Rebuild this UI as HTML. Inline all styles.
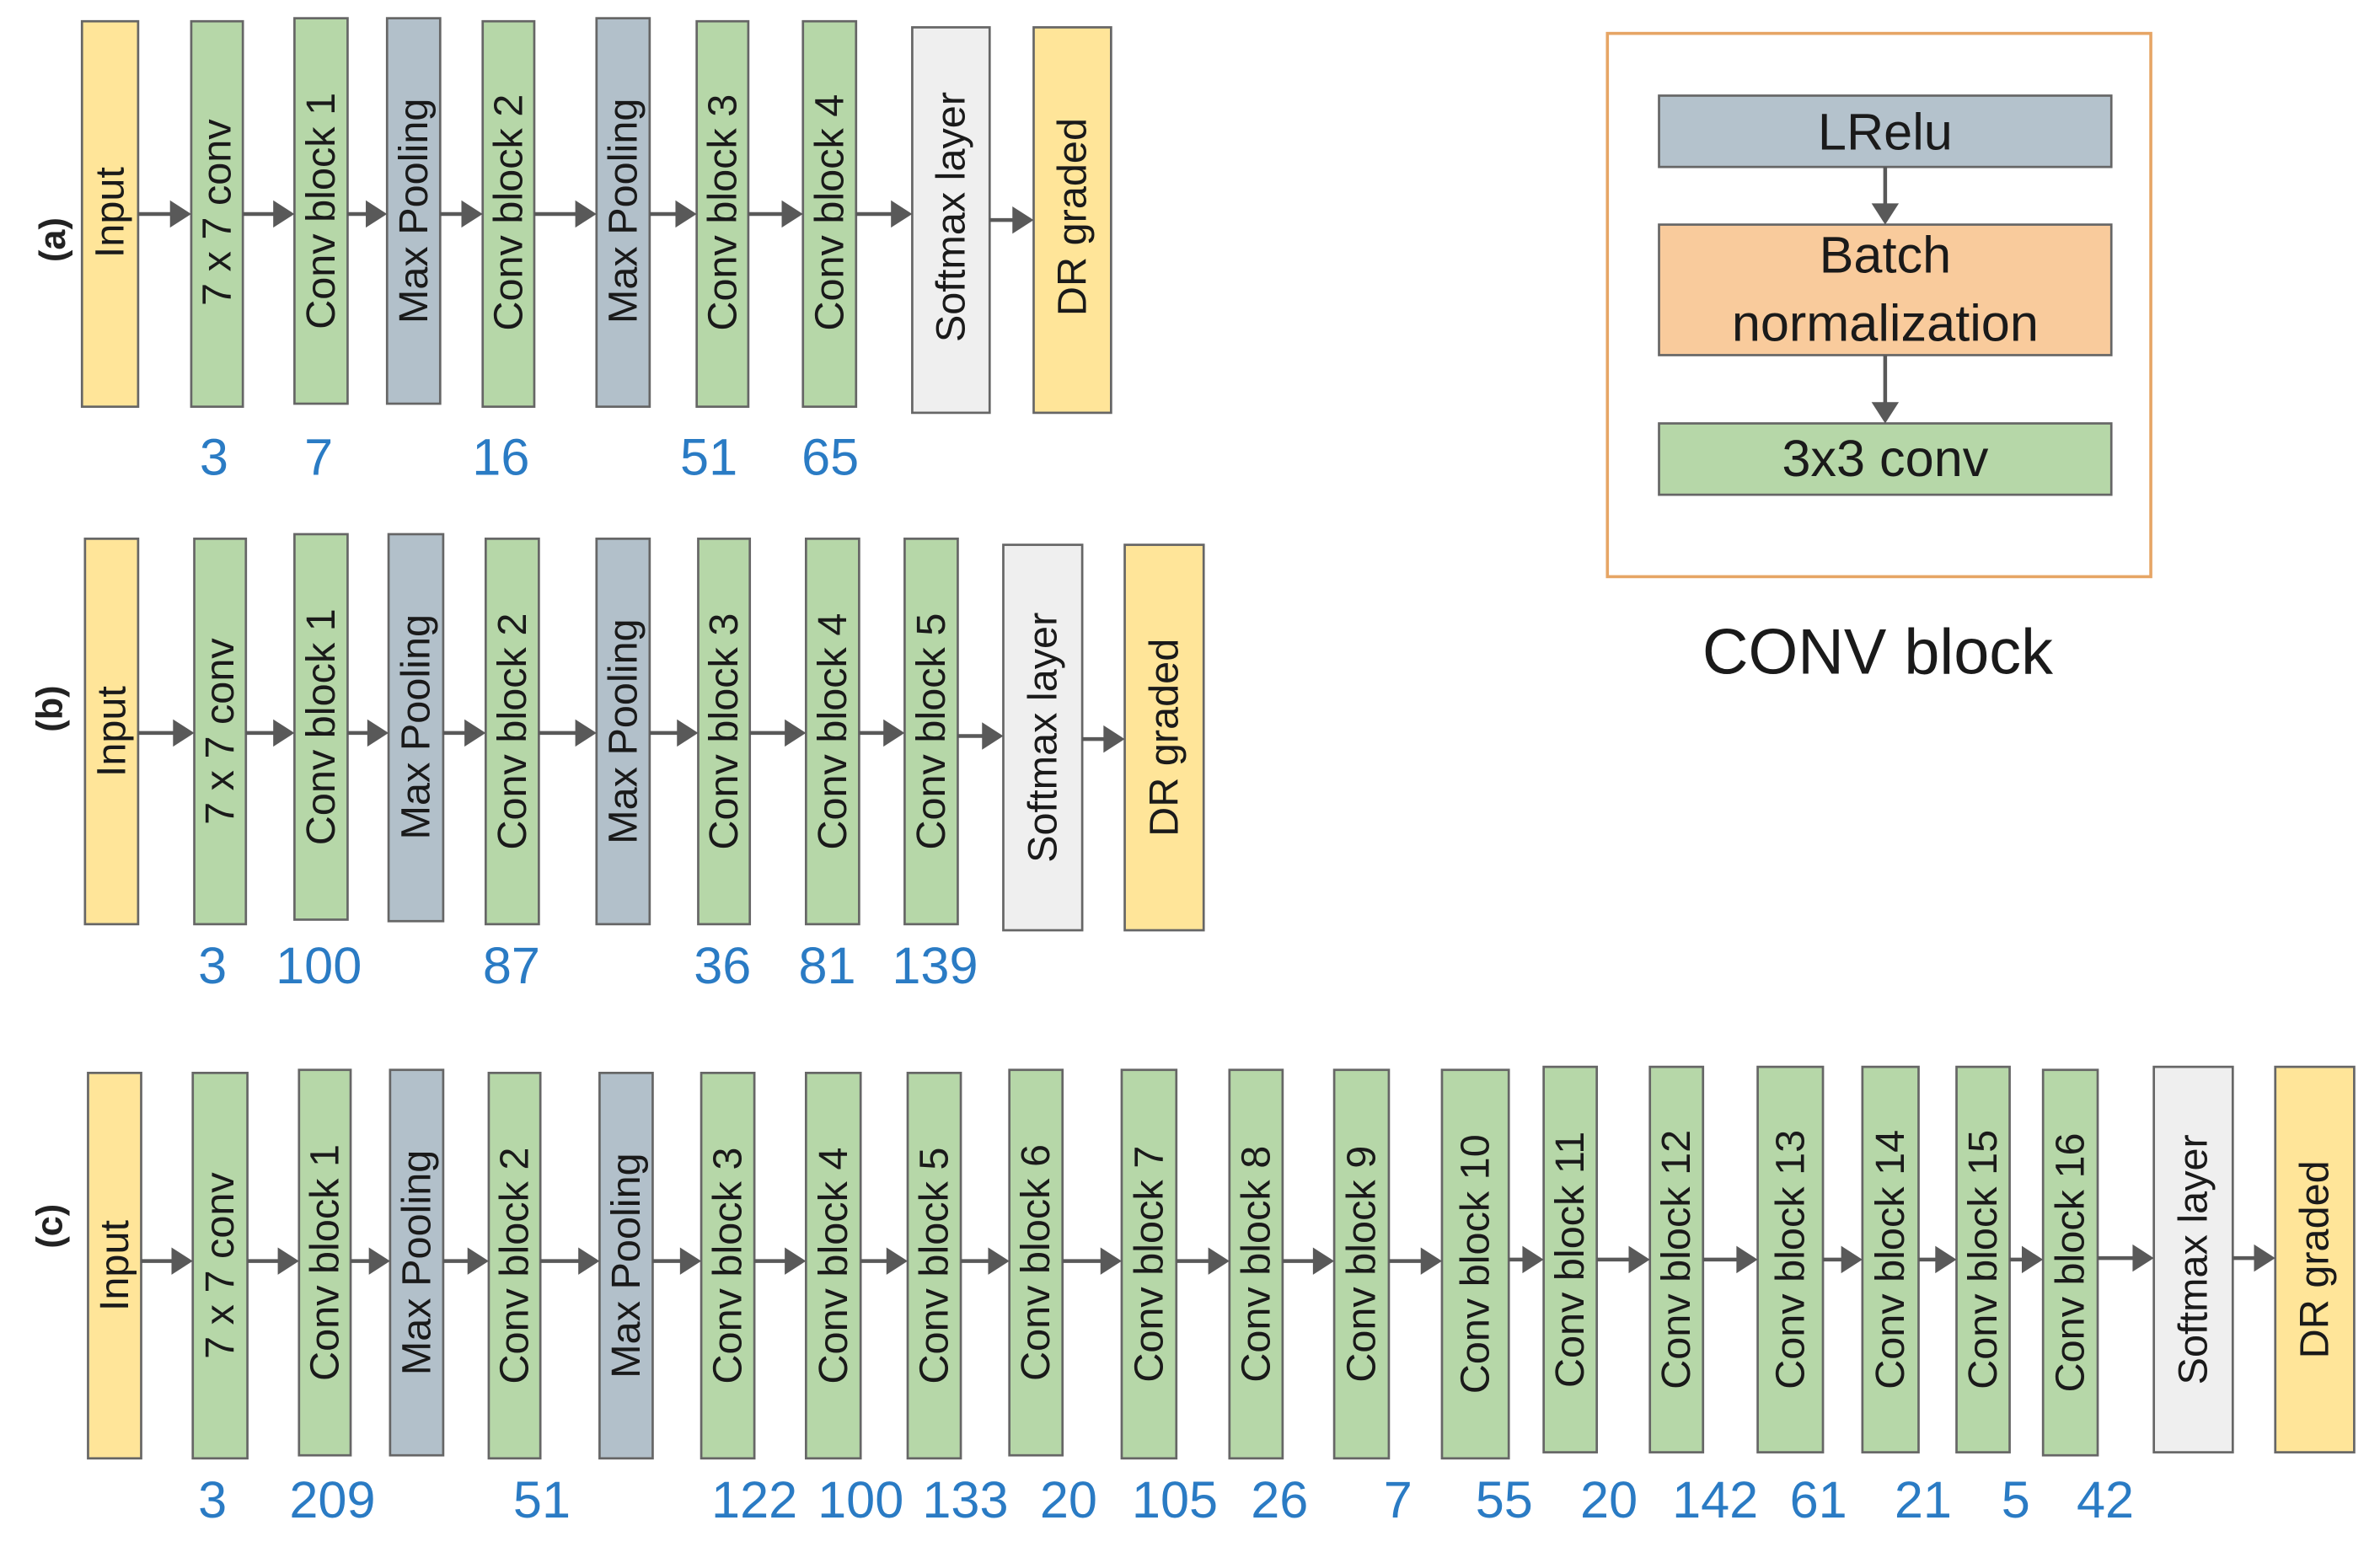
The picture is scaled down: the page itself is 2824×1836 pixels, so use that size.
<!DOCTYPE html>
<html><head><meta charset="utf-8"><style>
html,body{margin:0;padding:0;background:#fff;}
svg{display:block;}
.b{stroke:#666;stroke-width:1.5;}
.y{fill:#ffe599}.g{fill:#b6d7a8}.p{fill:#b2c0ca}.w{fill:#efefef}
.t{font-family:"Liberation Sans",sans-serif;font-size:27px;fill:#1a1a1a;text-anchor:middle;dominant-baseline:central;}
.n{font-family:"Liberation Sans",sans-serif;font-size:34px;fill:#2a7bc4;text-anchor:middle;}
.l{font-family:"Liberation Sans",sans-serif;font-size:24px;font-weight:bold;fill:#222;text-anchor:middle;dominant-baseline:central;}
.a{stroke:#595959;stroke-width:2.5;}
.h{fill:#595959;}
</style></head><body>
<svg width="2824" height="1836" viewBox="0 0 1568 1019.4" xmlns="http://www.w3.org/2000/svg">
<!-- Row a -->
<text class="l" transform="translate(35,158) rotate(-90)">(a)</text>
<rect class="b y" x="54" y="14" width="37" height="254"/><text class="t" transform="translate(72.5,140) rotate(-90)">Input</text>
<rect class="b g" x="126" y="14" width="34" height="254"/><text class="t" transform="translate(143,140) rotate(-90)">7 x 7 conv</text>
<rect class="b g" x="194" y="12" width="35" height="254"/><text class="t" transform="translate(211.5,139) rotate(-90)">Conv block 1</text>
<rect class="b p" x="255" y="12" width="35" height="254"/><text class="t" transform="translate(272.5,139) rotate(-90)">Max Pooling</text>
<rect class="b g" x="318" y="14" width="34" height="254"/><text class="t" transform="translate(335,140) rotate(-90)">Conv block 2</text>
<rect class="b p" x="393" y="12" width="35" height="256"/><text class="t" transform="translate(410.5,139) rotate(-90)">Max Pooling</text>
<rect class="b g" x="459" y="14" width="34" height="254"/><text class="t" transform="translate(476,140) rotate(-90)">Conv block 3</text>
<rect class="b g" x="529" y="14" width="35" height="254"/><text class="t" transform="translate(546.5,140) rotate(-90)">Conv block 4</text>
<rect class="b w" x="601" y="18" width="51" height="254"/><text class="t" transform="translate(626.5,143) rotate(-90)">Softmax layer</text>
<rect class="b y" x="681" y="18" width="51" height="254"/><text class="t" transform="translate(706.5,143) rotate(-90)">DR graded</text>
<g>
<line class="a" x1="91" y1="141" x2="114" y2="141"/><polygon class="h" points="112,132 126,141 112,150"/>
<line class="a" x1="160" y1="141" x2="182" y2="141"/><polygon class="h" points="180,132 194,141 180,150"/>
<line class="a" x1="229" y1="141" x2="243" y2="141"/><polygon class="h" points="241,132 255,141 241,150"/>
<line class="a" x1="290" y1="141" x2="306" y2="141"/><polygon class="h" points="304,132 318,141 304,150"/>
<line class="a" x1="352" y1="141" x2="381" y2="141"/><polygon class="h" points="379,132 393,141 379,150"/>
<line class="a" x1="428" y1="141" x2="447" y2="141"/><polygon class="h" points="445,132 459,141 445,150"/>
<line class="a" x1="493" y1="141" x2="517" y2="141"/><polygon class="h" points="515,132 529,141 515,150"/>
<line class="a" x1="564" y1="141" x2="589" y2="141"/><polygon class="h" points="587,132 601,141 587,150"/>
<line class="a" x1="652" y1="145" x2="669" y2="145"/><polygon class="h" points="667,136 681,145 667,154"/>
</g>
<text class="n" x="141" y="313">3</text><text class="n" x="210" y="313">7</text><text class="n" x="330" y="313">16</text><text class="n" x="467" y="313">51</text><text class="n" x="547" y="313">65</text>

<!-- Row b -->
<text class="l" transform="translate(33,467) rotate(-90)">(b)</text>
<rect class="b y" x="56" y="355" width="35" height="254"/><text class="t" transform="translate(73.5,482) rotate(-90)">Input</text>
<rect class="b g" x="128" y="355" width="34" height="254"/><text class="t" transform="translate(145,482) rotate(-90)">7 x 7 conv</text>
<rect class="b g" x="194" y="352" width="35" height="254"/><text class="t" transform="translate(211.5,479) rotate(-90)">Conv block 1</text>
<rect class="b p" x="256" y="352" width="36" height="255"/><text class="t" transform="translate(274,479) rotate(-90)">Max Pooling</text>
<rect class="b g" x="320" y="355" width="35" height="254"/><text class="t" transform="translate(337.5,482) rotate(-90)">Conv block 2</text>
<rect class="b p" x="393" y="355" width="35" height="254"/><text class="t" transform="translate(410.5,482) rotate(-90)">Max Pooling</text>
<rect class="b g" x="460" y="355" width="34" height="254"/><text class="t" transform="translate(477,482) rotate(-90)">Conv block 3</text>
<rect class="b g" x="531" y="355" width="35" height="254"/><text class="t" transform="translate(548.5,482) rotate(-90)">Conv block 4</text>
<rect class="b g" x="596" y="355" width="35" height="254"/><text class="t" transform="translate(613.5,482) rotate(-90)">Conv block 5</text>
<rect class="b w" x="661" y="359" width="52" height="254"/><text class="t" transform="translate(687,486) rotate(-90)">Softmax layer</text>
<rect class="b y" x="741" y="359" width="52" height="254"/><text class="t" transform="translate(767,486) rotate(-90)">DR graded</text>
<g>
<line class="a" x1="91" y1="483" x2="116" y2="483"/><polygon class="h" points="114,474 128,483 114,492"/>
<line class="a" x1="162" y1="483" x2="182" y2="483"/><polygon class="h" points="180,474 194,483 180,492"/>
<line class="a" x1="229" y1="483" x2="244" y2="483"/><polygon class="h" points="242,474 256,483 242,492"/>
<line class="a" x1="292" y1="483" x2="308" y2="483"/><polygon class="h" points="306,474 320,483 306,492"/>
<line class="a" x1="355" y1="483" x2="381" y2="483"/><polygon class="h" points="379,474 393,483 379,492"/>
<line class="a" x1="428" y1="483" x2="448" y2="483"/><polygon class="h" points="446,474 460,483 446,492"/>
<line class="a" x1="494" y1="483" x2="519" y2="483"/><polygon class="h" points="517,474 531,483 517,492"/>
<line class="a" x1="566" y1="483" x2="584" y2="483"/><polygon class="h" points="582,474 596,483 582,492"/>
<line class="a" x1="631" y1="485" x2="649" y2="485"/><polygon class="h" points="647,476 661,485 647,494"/>
<line class="a" x1="713" y1="487" x2="729" y2="487"/><polygon class="h" points="727,478 741,487 727,496"/>
</g>
<text class="n" x="140" y="648">3</text><text class="n" x="210" y="648">100</text><text class="n" x="337" y="648">87</text><text class="n" x="476" y="648">36</text><text class="n" x="545" y="648">81</text><text class="n" x="616" y="648">139</text>

<!-- Row c -->
<text class="l" transform="translate(33,808) rotate(-90)">(c)</text>
<rect class="b y" x="58" y="707" width="35" height="254"/><text class="t" transform="translate(75.5,834) rotate(-90)">Input</text>
<rect class="b g" x="127" y="707" width="36" height="254"/><text class="t" transform="translate(145,834) rotate(-90)">7 x 7 conv</text>
<rect class="b g" x="197" y="705" width="34" height="254"/><text class="t" transform="translate(214,832) rotate(-90)">Conv block 1</text>
<rect class="b p" x="257" y="705" width="35" height="254"/><text class="t" transform="translate(274.5,832) rotate(-90)">Max Pooling</text>
<rect class="b g" x="322" y="707" width="34" height="254"/><text class="t" transform="translate(339,834) rotate(-90)">Conv block 2</text>
<rect class="b p" x="395" y="707" width="35" height="254"/><text class="t" transform="translate(412.5,834) rotate(-90)">Max Pooling</text>
<rect class="b g" x="462" y="707" width="35" height="254"/><text class="t" transform="translate(479.5,834) rotate(-90)">Conv block 3</text>
<rect class="b g" x="531" y="707" width="36" height="254"/><text class="t" transform="translate(549,834) rotate(-90)">Conv block 4</text>
<rect class="b g" x="598" y="707" width="35" height="254"/><text class="t" transform="translate(615.5,834) rotate(-90)">Conv block 5</text>
<rect class="b g" x="665" y="705" width="35" height="254"/><text class="t" transform="translate(682.5,832) rotate(-90)">Conv block 6</text>
<rect class="b g" x="739" y="705" width="36" height="256"/><text class="t" transform="translate(757,833) rotate(-90)">Conv block 7</text>
<rect class="b g" x="810" y="705" width="35" height="256"/><text class="t" transform="translate(827.5,833) rotate(-90)">Conv block 8</text>
<rect class="b g" x="879" y="705" width="36" height="256"/><text class="t" transform="translate(897,833) rotate(-90)">Conv block 9</text>
<rect class="b g" x="950" y="705" width="44" height="256"/><text class="t" transform="translate(972,833) rotate(-90)">Conv block 10</text>
<rect class="b g" x="1017" y="703" width="35" height="254"/><text class="t" transform="translate(1034.5,830) rotate(-90)">Conv block 11</text>
<rect class="b g" x="1087" y="703" width="35" height="254"/><text class="t" transform="translate(1104.5,830) rotate(-90)">Conv block 12</text>
<rect class="b g" x="1158" y="703" width="43" height="254"/><text class="t" transform="translate(1179.5,830) rotate(-90)">Conv block 13</text>
<rect class="b g" x="1227" y="703" width="37" height="254"/><text class="t" transform="translate(1245.5,830) rotate(-90)">Conv block 14</text>
<rect class="b g" x="1289" y="703" width="35" height="254"/><text class="t" transform="translate(1306.5,830) rotate(-90)">Conv block 15</text>
<rect class="b g" x="1346" y="705" width="36" height="254"/><text class="t" transform="translate(1364,832) rotate(-90)">Conv block 16</text>
<rect class="b w" x="1419" y="703" width="52" height="254"/><text class="t" transform="translate(1445,830) rotate(-90)">Softmax layer</text>
<rect class="b y" x="1499" y="703" width="52" height="254"/><text class="t" transform="translate(1525,830) rotate(-90)">DR graded</text>
<g>
<line class="a" x1="93" y1="831" x2="115" y2="831"/><polygon class="h" points="113,822 127,831 113,840"/>
<line class="a" x1="163" y1="831" x2="185" y2="831"/><polygon class="h" points="183,822 197,831 183,840"/>
<line class="a" x1="231" y1="831" x2="245" y2="831"/><polygon class="h" points="243,822 257,831 243,840"/>
<line class="a" x1="292" y1="831" x2="310" y2="831"/><polygon class="h" points="308,822 322,831 308,840"/>
<line class="a" x1="356" y1="831" x2="383" y2="831"/><polygon class="h" points="381,822 395,831 381,840"/>
<line class="a" x1="430" y1="831" x2="450" y2="831"/><polygon class="h" points="448,822 462,831 448,840"/>
<line class="a" x1="497" y1="831" x2="519" y2="831"/><polygon class="h" points="517,822 531,831 517,840"/>
<line class="a" x1="567" y1="831" x2="586" y2="831"/><polygon class="h" points="584,822 598,831 584,840"/>
<line class="a" x1="633" y1="831" x2="653" y2="831"/><polygon class="h" points="651,822 665,831 651,840"/>
<line class="a" x1="700" y1="831" x2="727" y2="831"/><polygon class="h" points="725,822 739,831 725,840"/>
<line class="a" x1="775" y1="831" x2="798" y2="831"/><polygon class="h" points="796,822 810,831 796,840"/>
<line class="a" x1="845" y1="831" x2="867" y2="831"/><polygon class="h" points="865,822 879,831 865,840"/>
<line class="a" x1="915" y1="831" x2="938" y2="831"/><polygon class="h" points="936,822 950,831 936,840"/>
<line class="a" x1="994" y1="830" x2="1005" y2="830"/><polygon class="h" points="1003,821 1017,830 1003,839"/>
<line class="a" x1="1052" y1="830" x2="1075" y2="830"/><polygon class="h" points="1073,821 1087,830 1073,839"/>
<line class="a" x1="1122" y1="830" x2="1146" y2="830"/><polygon class="h" points="1144,821 1158,830 1144,839"/>
<line class="a" x1="1201" y1="830" x2="1215" y2="830"/><polygon class="h" points="1213,821 1227,830 1213,839"/>
<line class="a" x1="1264" y1="830" x2="1277" y2="830"/><polygon class="h" points="1275,821 1289,830 1275,839"/>
<line class="a" x1="1324" y1="830" x2="1334" y2="830"/><polygon class="h" points="1332,821 1346,830 1332,839"/>
<line class="a" x1="1382" y1="829" x2="1407" y2="829"/><polygon class="h" points="1405,820 1419,829 1405,838"/>
<line class="a" x1="1471" y1="829" x2="1487" y2="829"/><polygon class="h" points="1485,820 1499,829 1485,838"/>
</g>
<text class="n" x="140" y="1000">3</text><text class="n" x="219" y="1000">209</text><text class="n" x="357" y="1000">51</text><text class="n" x="497" y="1000">122</text><text class="n" x="567" y="1000">100</text><text class="n" x="636" y="1000">133</text><text class="n" x="704" y="1000">20</text><text class="n" x="774" y="1000">105</text><text class="n" x="843" y="1000">26</text><text class="n" x="921" y="1000">7</text><text class="n" x="991" y="1000">55</text><text class="n" x="1060" y="1000">20</text><text class="n" x="1130" y="1000">142</text><text class="n" x="1198" y="1000">61</text><text class="n" x="1267" y="1000">21</text><text class="n" x="1328" y="1000">5</text><text class="n" x="1387" y="1000">42</text>

<!-- CONV block panel -->
<rect x="1059" y="22" width="358" height="358" fill="none" stroke="#e6a565" stroke-width="2"/>
<rect class="b" x="1093" y="63" width="298" height="47" fill="#b4c2cc"/>
<text x="1242" y="87" font-family="Liberation Sans, sans-serif" font-size="34" fill="#1a1a1a" text-anchor="middle" dominant-baseline="central">LRelu</text>
<rect class="b" x="1093" y="148" width="298" height="86" fill="#f9cb9c"/>
<text x="1242" y="168" font-family="Liberation Sans, sans-serif" font-size="34" fill="#1a1a1a" text-anchor="middle" dominant-baseline="central">Batch</text>
<text x="1242" y="213" font-family="Liberation Sans, sans-serif" font-size="34" fill="#1a1a1a" text-anchor="middle" dominant-baseline="central">normalization</text>
<rect class="b" x="1093" y="279" width="298" height="47" fill="#b6d7a8"/>
<text x="1242" y="302" font-family="Liberation Sans, sans-serif" font-size="34" fill="#1a1a1a" text-anchor="middle" dominant-baseline="central">3x3 conv</text>
<line class="a" x1="1242" y1="110" x2="1242" y2="136"/><polygon class="h" points="1233,134 1242,148 1251,134"/>
<line class="a" x1="1242" y1="234" x2="1242" y2="267"/><polygon class="h" points="1233,265 1242,279 1251,265"/>
<text x="1237" y="430" font-family="Liberation Sans, sans-serif" font-size="42" fill="#1a1a1a" text-anchor="middle" dominant-baseline="central">CONV block</text>
</svg>
</body></html>
